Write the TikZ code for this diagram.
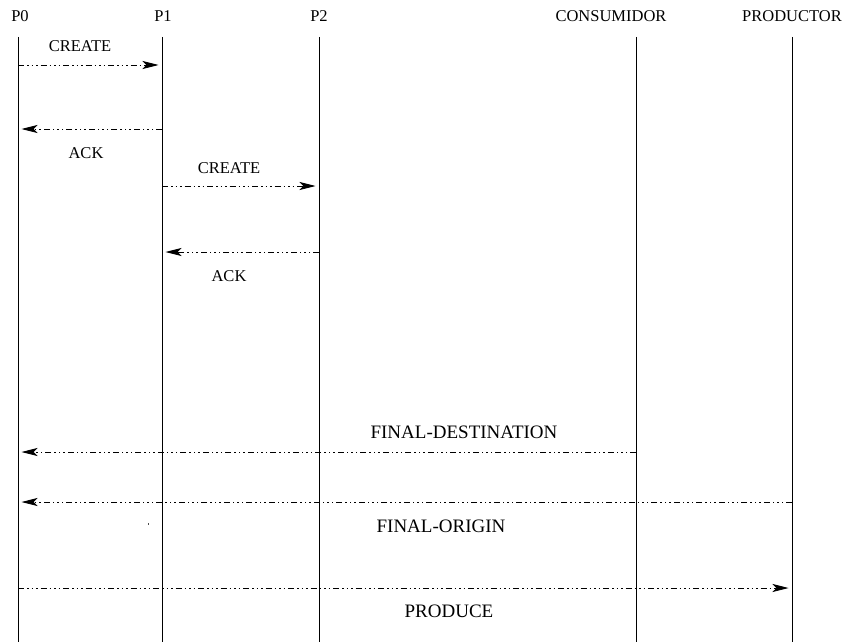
\documentclass[tikz,border=0pt]{standalone}
\usepackage{fontspec}
\setmainfont{Liberation Serif}
\usetikzlibrary{arrows.meta}
\begin{document}
\begin{tikzpicture}[x=1pt,y=-1pt,
  head/.style={font=\fontsize{16.5}{19}\selectfont, anchor=base, inner sep=0pt},
  small/.style={font=\fontsize{16.5}{19}\selectfont, anchor=base, inner sep=0pt},
  big/.style={font=\fontsize{19}{22}\selectfont, anchor=base, inner sep=0pt},
  life/.style={line width=0.8pt},
  msg/.style={line width=0.8pt, dash pattern=on 6pt off 3pt on 1.5pt off 3pt on 1.5pt off 3pt on 1.5pt off 3pt,
    -{Stealth[length=16pt,width=8pt,inset=4pt]}, shorten >=3.5pt}]
\useasboundingbox (0,0) rectangle (846,642);
% headers
\node[head] (h0) at (20,22) {P0};
\node[head] (h1) at (163,22) {P1};
\node[head] (h2) at (319,22) {P2};
\node[head] (h3) at (611,22) {CONSUMIDOR};
\node[head] (h4) at (792,22) {PRODUCTOR};
% lifelines
\foreach \n/\x in {0/18,1/162,2/319,3/636,4/792}{
  \coordinate (t\n) at (\x,37);
  \coordinate (b\n) at (\x,642);
  \draw[life] (t\n) -- (b\n);
}
% message end points
\coordinate (m1a) at (18,65);  \coordinate (m1b) at (162,65);
\coordinate (m2a) at (162,129); \coordinate (m2b) at (18,129);
\coordinate (m3a) at (162,186); \coordinate (m3b) at (319,186);
\coordinate (m4a) at (319,252); \coordinate (m4b) at (162,252);
\coordinate (m5a) at (636,452); \coordinate (m5b) at (18,452);
\coordinate (m6a) at (792,502); \coordinate (m6b) at (18,502);
\coordinate (m7a) at (18,588); \coordinate (m7b) at (792,588);
\draw[msg] (m1a) -- (m1b);
\draw[msg] (m2a) -- (m2b);
\draw[msg] (m3a) -- (m3b);
\draw[msg] (m4a) -- (m4b);
\draw[msg] (m5a) -- (m5b);
\draw[msg] (m6a) -- (m6b);
\draw[msg] (m7a) -- (m7b);
% labels
\node[small] (l1) at (80,52) {CREATE};
\node[small] (l2) at (86,158) {ACK};
\node[small] (l3) at (229,173) {CREATE};
\node[small] (l4) at (229,281) {ACK};
\node[big] (l5) at (464,438) {FINAL-DESTINATION};
\node[big] (l6) at (441,532) {FINAL-ORIGIN};
\node[big] (l7) at (449,617) {PRODUCE};
% stray mark
\fill[black!70] (147.6,523) rectangle (148.4,525);
\end{tikzpicture}
\end{document}
